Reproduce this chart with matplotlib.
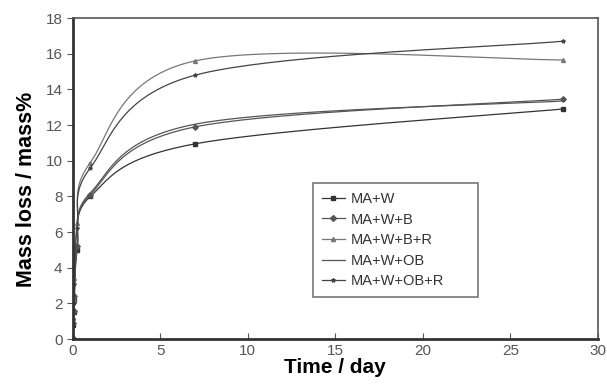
import numpy as np
import matplotlib
matplotlib.use("Agg")
import matplotlib.pyplot as plt

plt.rcParams["font.family"] = ["Liberation Sans", "DejaVu Sans"]

# sampling times (day) and mass loss (mass%)
days = [0, 0.021, 0.042, 0.083, 0.25, 1, 7, 28]
ma_w = [0, 0.8, 1.5, 2.2, 5.0, 8.0, 10.95, 12.9]
ma_w_b = [0, 0.9, 1.6, 2.4, 5.2, 8.1, 11.9, 13.45]
ma_w_b_r = [0, 1.2, 2.2, 3.4, 6.5, 9.9, 15.6, 15.65]
ma_w_ob = [0, 0.9, 1.7, 2.5, 5.3, 8.2, 12.05, 13.35]
ma_w_ob_r = [0, 1.1, 2.0, 3.1, 6.2, 9.6, 14.8, 16.7]

labels = ["MA+W", "MA+W+B", "MA+W+B+R", "MA+W+OB", "MA+W+OB+R"]
series = [ma_w, ma_w_b, ma_w_b_r, ma_w_ob, ma_w_ob_r]
markers = ["s", "D", "^", None, "*"]
colors = ["#333333", "#555555", "#777777", "#555555", "#444444"]

XMAX, YMAX = 30.0, 18.0
SX, SY = 525.0, 321.0  # axes size in pixels, for the smoothing


def smooth_line(x, y, n=40):
    # Excel-like smoothed line: Bezier through the points, in pixel space
    px = np.asarray(x, float) / XMAX * SX
    py = np.asarray(y, float) / YMAX * SY
    pts = np.column_stack([px, py])
    out = [pts[0]]
    t = np.linspace(0, 1, n)[1:, None]
    for i in range(len(pts) - 1):
        p0 = pts[i - 1] if i > 0 else pts[i]
        p1, p2 = pts[i], pts[i + 1]
        p3 = pts[i + 2] if i + 2 < len(pts) else pts[i + 1]
        c1 = p1 + (p2 - p0) / 6.0
        c2 = p2 - (p3 - p1) / 6.0
        seg = ((1 - t) ** 3) * p1 + 3 * ((1 - t) ** 2) * t * c1 \
            + 3 * (1 - t) * t ** 2 * c2 + t ** 3 * p2
        out.extend(seg)
    out = np.array(out)
    return out[:, 0] / SX * XMAX, out[:, 1] / SY * YMAX


fig = plt.figure(figsize=(6.07, 3.92), dpi=100)
ax = fig.add_axes([0.120, 0.135, 0.865, 0.819])

for y, lab, m, c in zip(series, labels, markers, colors):
    sx, sy = smooth_line(days, y)
    ax.plot(sx, sy, color=c, lw=0.9)
    ax.plot(days, y, linestyle="none", marker=m, ms=2.8, color=c)
    ax.plot([], [], color=c, lw=0.9, marker=m, ms=3.0, label=lab)

ax.set_xlim(0, XMAX)
ax.set_ylim(0, YMAX)
ax.set_xticks(np.arange(0, 31, 5))
ax.set_yticks(np.arange(0, 19, 2))
ax.tick_params(axis="x", direction="in", length=4, labelsize=11, colors="#555555")
ax.tick_params(axis="y", direction="out", length=4, labelsize=11, colors="#555555")
for sp in ax.spines.values():
    sp.set_color("#555555")
    sp.set_linewidth(1.2)
ax.spines["left"].set_linewidth(2)
ax.spines["bottom"].set_linewidth(2)
ax.spines["left"].set_color("#333333")
ax.spines["bottom"].set_color("#333333")

ax.set_xlabel("Time / day", fontsize=15, fontweight="bold", labelpad=0)
ax.set_ylabel("Mass loss / mass%", fontsize=15.5, fontweight="bold")
ax.yaxis.set_label_coords(-0.068, 0.465)

leg = ax.legend(loc="lower left", bbox_to_anchor=(0.457, 0.131, 0.314, 0.411),
                mode="expand", fontsize=10.5, frameon=True, fancybox=False,
                handlelength=1.6, handletextpad=0.4, borderaxespad=0,
                labelspacing=0.45, borderpad=0.6)
leg.get_frame().set_edgecolor("#555555")
leg.get_frame().set_linewidth(1.2)
for t in leg.get_texts():
    t.set_color("#333333")

plt.savefig("out.png", dpi=100)
